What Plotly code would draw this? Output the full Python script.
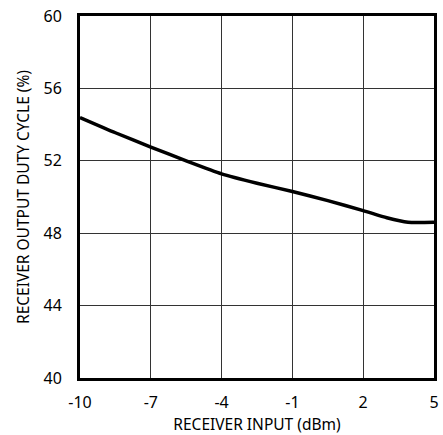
import plotly.graph_objects as go

x_vals = [-10, -8.5, -7, -5.5, -4, -2.5, -1, 0.5, 2, 3, 3.9, 5]
duty = [54.39, 53.55, 52.76, 52.0, 51.28, 50.76, 50.3, 49.8, 49.25, 48.85, 48.6, 48.6]
x_ticks = [-10, -7, -4, -1, 2, 5]
y_ticks = [40, 44, 48, 52, 56, 60]

fig = go.Figure()
fig.add_trace(go.Scatter(x=x_vals, y=duty, mode="lines",
                         line=dict(color="black", width=3.5, shape="spline", smoothing=0.6),
                         showlegend=False, cliponaxis=False, hoverinfo="skip"))

font = dict(family="Noto Sans", size=16, color="black")
tfont = dict(family="Noto Sans", size=15.5, color="black")
fig.update_layout(
    width=443, height=435,
    margin=dict(l=80, r=9, t=16, b=57),
    paper_bgcolor="white", plot_bgcolor="white",
    font=font,
    xaxis=dict(range=[-10, 5], tickvals=x_ticks, ticktext=[str(v) for v in x_ticks],
               showgrid=True, gridcolor="#333", gridwidth=1,
               showline=True, linecolor="black", linewidth=3, mirror=True,
               ticks="outside", ticklen=8, tickcolor="rgba(0,0,0,0)",
               zeroline=False, automargin=False, ticklabeloverflow="allow",
               title=dict(text="RECEIVER INPUT (dBm)", standoff=4, font=tfont)),
    yaxis=dict(range=[40, 60], tickvals=y_ticks,
               showgrid=True, gridcolor="#333", gridwidth=1,
               showline=True, linecolor="black", linewidth=3, mirror=True,
               ticks="outside", ticklen=12, tickcolor="rgba(0,0,0,0)",
               zeroline=False, automargin=False, ticklabeloverflow="allow",
               title=dict(text="RECEIVER OUTPUT DUTY CYCLE (%)", standoff=11, font=tfont)),
)
fig.write_html("out.html", config={"displayModeBar": False},
               post_script="document.body.style.margin='0';document.body.style.overflow='hidden';")
